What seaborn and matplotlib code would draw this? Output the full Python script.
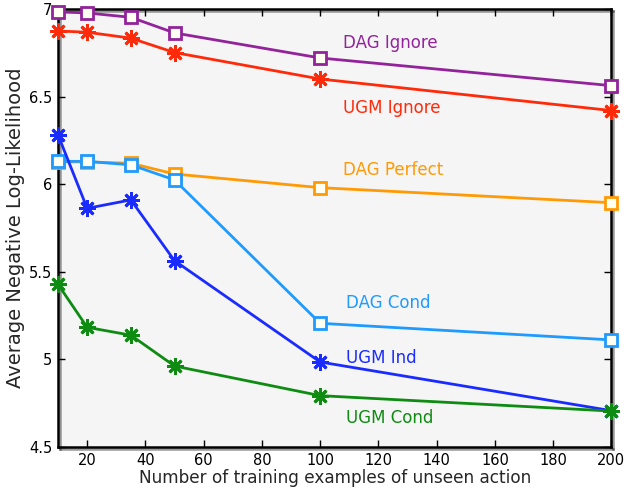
import matplotlib
matplotlib.use("Agg")
import matplotlib.pyplot as plt
import matplotlib.patheffects as pe
from matplotlib.ticker import FuncFormatter
import seaborn as sns
import pandas as pd

x_vals = [10, 20, 35, 50, 100, 200]
dag_ignore = [6.983, 6.977, 6.952, 6.863, 6.72, 6.562]
ugm_ignore = [6.874, 6.867, 6.833, 6.751, 6.60, 6.42]
dag_perfect = [6.127, 6.127, 6.119, 6.058, 5.98, 5.894]
dag_cond = [6.13, 6.13, 6.11, 6.024, 5.206, 5.111]
ugm_ind = [6.281, 5.862, 5.91, 5.563, 4.985, 4.707]
ugm_cond = [5.428, 5.183, 5.138, 4.962, 4.793, 4.705]

series_names = ["DAG Ignore", "UGM Ignore", "DAG Perfect", "DAG Cond", "UGM Ind", "UGM Cond"]
series_values = [dag_ignore, ugm_ignore, dag_perfect, dag_cond, ugm_ind, ugm_cond]
series_colors = ["#93239B", "#FF2A0A", "#FF9A05", "#1F9BFF", "#1A2BFF", "#0E8C12"]
series_markers = ["s", (8, 2, 0), "s", "s", (8, 2, 0), (8, 2, 0)]
label_x = [108, 108, 108, 109, 109, 109]
label_y = [6.806, 6.435, 6.081, 5.322, 5.008, 4.665]

x_ticks = [20, 40, 60, 80, 100, 120, 140, 160, 180, 200]
y_ticks = [4.5, 5, 5.5, 6, 6.5, 7]

sns.set_style("ticks")
plt.rcParams["font.family"] = ["DejaVu Sans"]

fig = plt.figure(figsize=(6.26, 4.95), dpi=100)
ax = fig.add_axes([0.0927, 0.097, 0.884, 0.885])
ax.set_facecolor("#f5f5f5")

draw_order = [3, 2, 0, 1, 5, 4]
for i in draw_order:
    df = pd.DataFrame({"x": x_vals, "y": series_values[i]})
    m = series_markers[i]
    if m == "s":
        kw = dict(marker="s", markersize=9, markerfacecolor="#fffff2",
                  markeredgecolor=series_colors[i], markeredgewidth=2)
    else:
        kw = dict(marker=m, markersize=12, markeredgecolor=series_colors[i],
                  markeredgewidth=2)
    sns.lineplot(data=df, x="x", y="y", ax=ax, color=series_colors[i],
                 linewidth=2, clip_on=False, zorder=3 + i * 0.1, **kw)
    ax.text(label_x[i], label_y[i], series_names[i], color=series_colors[i],
            fontsize=12, va="center", ha="left")

ax.set_xlim(10, 200)
ax.set_ylim(4.5, 7)
ax.set_xticks(x_ticks)
ax.set_yticks(y_ticks)
ax.yaxis.set_major_formatter(FuncFormatter(lambda v, p: f"{v:g}"))
ax.tick_params(direction="in", length=5, width=1, top=True, right=True,
               labelsize=10.5, colors="black", pad=4)
ax.set_xlabel("Number of training examples of unseen action", fontsize=12.2, labelpad=1)
ax.set_ylabel("Average Negative Log-Likelihood", fontsize=14, labelpad=3)

for s in ax.spines.values():
    s.set_visible(True)
    s.set_linewidth(1.8)
    s.set_color("black")
    s.set_path_effects([pe.SimpleLineShadow(offset=(1.5, -1.5), alpha=0.4), pe.Normal()])

fig.savefig("out.png", dpi=100, facecolor="white")
